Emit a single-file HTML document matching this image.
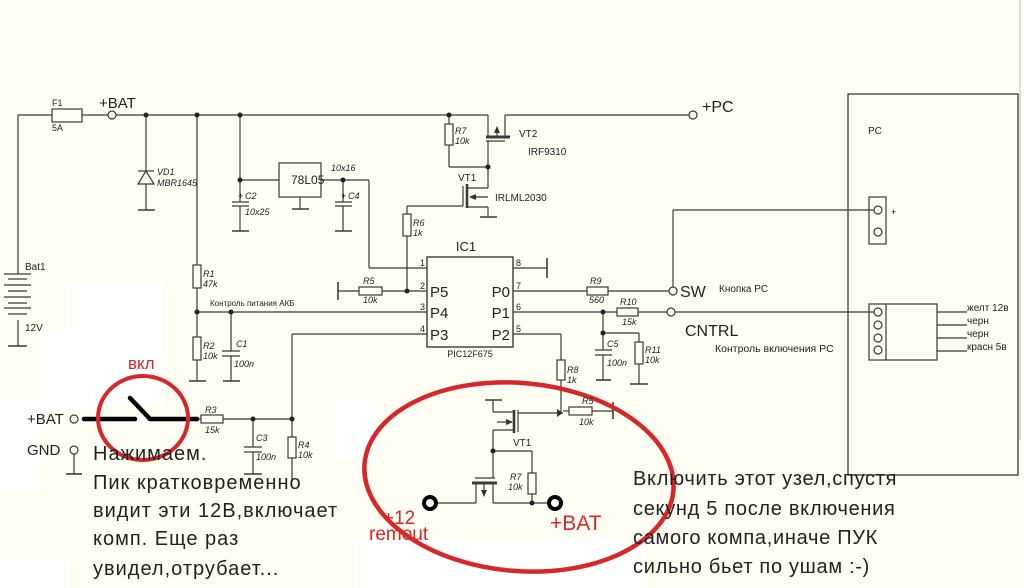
<!DOCTYPE html>
<html><head><meta charset="utf-8">
<style>
html,body{margin:0;padding:0;background:#fefef2;}
svg{display:block;}
text{font-family:"Liberation Sans",Arial,sans-serif;fill:#222;}
.i{font-style:italic;}
</style></head>
<body>
<svg width="1024" height="588" viewBox="0 0 1024 588" xmlns="http://www.w3.org/2000/svg">
<rect x="0" y="0" width="1024" height="588" fill="#fefef2"/>
<!-- white patches -->
<g fill="#ffffff">
<rect x="67" y="285" width="96" height="120"/>
<rect x="0" y="400" width="40" height="90"/>
<rect x="40" y="330" width="60" height="80"/>
<rect x="335" y="400" width="40" height="60"/>
<rect x="355" y="540" width="290" height="48"/>
<rect x="0" y="560" width="70" height="28"/>
</g>
<g stroke="#3a3a3a" stroke-width="1.2" fill="none">
<!-- top rail -->
<line x1="18" y1="115" x2="52" y2="115"/>
<rect x="52" y="109" width="30" height="13"/>
<line x1="82" y1="115" x2="108" y2="115"/>
<circle cx="112" cy="115" r="4"/>
<line x1="116" y1="115" x2="488" y2="115"/>
<!-- battery -->
<line x1="18" y1="115" x2="18" y2="274"/>
<line x1="4" y1="274" x2="31" y2="274"/>
<line x1="8" y1="279" x2="27" y2="279"/>
<line x1="4" y1="285" x2="31" y2="285"/>
<line x1="8" y1="291" x2="27" y2="291"/>
<line x1="4" y1="297" x2="31" y2="297"/>
<line x1="8" y1="303" x2="27" y2="303"/>
<line x1="4" y1="308" x2="31" y2="308"/>
<line x1="8" y1="314" x2="27" y2="314"/>
<line x1="18" y1="320" x2="18" y2="346"/>
<line x1="8" y1="346" x2="27" y2="346" stroke-width="1.6"/>
<!-- diode -->
<line x1="146" y1="115" x2="146" y2="210"/>
<line x1="138" y1="171" x2="154" y2="171"/>
<polygon points="146,171 138,184 154,184" fill="#fefef2"/>
<line x1="138" y1="210" x2="155" y2="210" stroke-width="1.6"/>
<!-- R1 R2 line -->
<line x1="197" y1="115" x2="197" y2="265"/>
<rect x="193" y="265" width="8" height="23" fill="#fefef2"/>
<line x1="197" y1="288" x2="197" y2="337"/>
<rect x="193" y="337" width="8" height="23" fill="#fefef2"/>
<line x1="197" y1="360" x2="197" y2="381"/>
<line x1="189" y1="381" x2="206" y2="381" stroke-width="1.6"/>
<line x1="197" y1="312" x2="427" y2="312"/>
<line x1="231" y1="312" x2="231" y2="351"/>
<line x1="222" y1="351" x2="240" y2="351"/>
<line x1="222" y1="356" x2="240" y2="356"/>
<line x1="231" y1="356" x2="231" y2="381"/>
<line x1="223" y1="381" x2="240" y2="381" stroke-width="1.6"/>
<!-- C2 / 78L05 -->
<line x1="240" y1="115" x2="240" y2="202"/>
<line x1="232" y1="202" x2="249" y2="202"/>
<line x1="232" y1="206" x2="249" y2="206"/>
<line x1="240" y1="206" x2="240" y2="231"/>
<line x1="232" y1="231" x2="249" y2="231" stroke-width="1.6"/>
<line x1="240" y1="180" x2="279" y2="180"/>
<rect x="279" y="163" width="42" height="34"/>
<line x1="300" y1="197" x2="300" y2="209"/>
<line x1="292" y1="209" x2="309" y2="209" stroke-width="1.6"/>
<line x1="321" y1="180" x2="369" y2="180"/>
<line x1="343" y1="180" x2="343" y2="202"/>
<line x1="335" y1="202" x2="352" y2="202"/>
<line x1="335" y1="206" x2="352" y2="206"/>
<line x1="343" y1="206" x2="343" y2="231"/>
<line x1="335" y1="231" x2="352" y2="231" stroke-width="1.6"/>
<line x1="369" y1="180" x2="369" y2="268"/>
<line x1="369" y1="268" x2="427" y2="268"/>
<!-- R7 / VT2 -->
<line x1="449" y1="115" x2="449" y2="124"/>
<rect x="445" y="124" width="8" height="21" fill="#fefef2"/>
<line x1="449" y1="145" x2="449" y2="167"/>
<line x1="449" y1="167" x2="488" y2="167"/>
<line x1="488" y1="115" x2="488" y2="136"/>
<line x1="486" y1="137" x2="510" y2="137" stroke-width="3"/>
<line x1="486" y1="141" x2="505" y2="141"/>
<line x1="497" y1="137" x2="497" y2="127"/>
<line x1="505" y1="137" x2="505" y2="115"/>
<line x1="505" y1="115" x2="689" y2="115"/>
<circle cx="693" cy="115" r="4"/>
<line x1="488" y1="141" x2="488" y2="188"/>
<!-- VT1 upper -->
<line x1="488" y1="188" x2="468" y2="188"/>
<line x1="467" y1="184" x2="467" y2="208" stroke-width="2.6"/>
<line x1="463" y1="186" x2="463" y2="206"/>
<line x1="463" y1="206" x2="407" y2="206"/>
<line x1="470" y1="197" x2="488" y2="197"/>
<line x1="468" y1="207" x2="488" y2="207"/>
<line x1="488" y1="207" x2="488" y2="217"/>
<line x1="480" y1="217" x2="497" y2="217" stroke-width="1.6"/>
<line x1="407" y1="206" x2="407" y2="214"/>
<rect x="403" y="214" width="8" height="22" fill="#fefef2"/>
<line x1="407" y1="236" x2="407" y2="291"/>
<!-- IC -->
<rect x="427" y="257" width="86" height="90" stroke-width="1.4"/>
<line x1="338" y1="282" x2="338" y2="300" stroke-width="1.6"/>
<line x1="338" y1="291" x2="359" y2="291"/>
<rect x="359" y="287" width="23" height="8" fill="#fefef2"/>
<line x1="382" y1="291" x2="427" y2="291"/>
<line x1="292" y1="334" x2="427" y2="334"/>
<line x1="292" y1="334" x2="292" y2="437"/>
<line x1="513" y1="268" x2="547" y2="268"/>
<line x1="547" y1="258" x2="547" y2="278" stroke-width="1.6"/>
<line x1="513" y1="291" x2="587" y2="291"/>
<rect x="587" y="287" width="21" height="8" fill="#fefef2"/>
<line x1="608" y1="291" x2="669" y2="291"/>
<circle cx="673" cy="291" r="4"/>
<line x1="673" y1="287" x2="673" y2="210"/>
<line x1="673" y1="210" x2="874" y2="210"/>
<line x1="513" y1="312" x2="617" y2="312"/>
<rect x="617" y="308" width="21" height="8" fill="#fefef2"/>
<line x1="638" y1="312" x2="667" y2="312"/>
<circle cx="671" cy="312" r="4"/>
<line x1="675" y1="312" x2="874" y2="312"/>
<line x1="603" y1="312" x2="603" y2="350"/>
<line x1="595" y1="350" x2="612" y2="350"/>
<line x1="595" y1="355" x2="612" y2="355"/>
<line x1="603" y1="355" x2="603" y2="380"/>
<line x1="596" y1="380" x2="611" y2="380" stroke-width="1.6"/>
<line x1="603" y1="333" x2="639" y2="333"/>
<line x1="639" y1="333" x2="639" y2="342"/>
<rect x="635" y="342" width="8" height="22" fill="#fefef2"/>
<line x1="639" y1="364" x2="639" y2="384"/>
<line x1="630" y1="384" x2="648" y2="384" stroke-width="1.6"/>
<line x1="513" y1="334" x2="561" y2="334"/>
<line x1="561" y1="334" x2="561" y2="360"/>
<rect x="557" y="360" width="8" height="20" fill="#fefef2"/>
<line x1="561" y1="380" x2="561" y2="412"/>
<!-- PC box -->
<rect x="848" y="94" width="170" height="381" stroke-width="1.3"/>
<rect x="869" y="197" width="17" height="47"/>
<circle cx="878" cy="210" r="4"/>
<circle cx="878" cy="232" r="4"/>
<rect x="869" y="304" width="68" height="56"/>
<line x1="886" y1="304" x2="886" y2="360"/>
<circle cx="878" cy="312" r="4"/>
<circle cx="878" cy="325" r="4"/>
<circle cx="878" cy="338" r="4"/>
<circle cx="878" cy="350" r="4"/>
<line x1="937" y1="312" x2="967" y2="312"/>
<line x1="937" y1="325" x2="967" y2="325"/>
<line x1="937" y1="338" x2="967" y2="338"/>
<line x1="937" y1="351" x2="967" y2="351"/>
<!-- bottom left -->
<circle cx="74" cy="419" r="4"/>
<line x1="198" y1="419" x2="201" y2="419"/>
<rect x="201" y="415" width="22" height="8" fill="#fefef2"/>
<line x1="223" y1="419" x2="292" y2="419"/>
<line x1="253" y1="419" x2="253" y2="447"/>
<line x1="244" y1="447" x2="262" y2="447"/>
<line x1="244" y1="452" x2="262" y2="452"/>
<line x1="253" y1="452" x2="253" y2="474"/>
<line x1="244" y1="474" x2="262" y2="474" stroke-width="1.6"/>
<rect x="288" y="437" width="8" height="21" fill="#fefef2"/>
<line x1="292" y1="458" x2="292" y2="482"/>
<circle cx="74" cy="450" r="4"/>
<line x1="74" y1="454" x2="74" y2="474"/>
<line x1="66" y1="474" x2="82" y2="474" stroke-width="1.6"/>
<!-- lower circuit -->
<line x1="485" y1="400" x2="502" y2="400" stroke-width="1.6"/>
<line x1="493" y1="400" x2="493" y2="412"/>
<line x1="493" y1="412" x2="514" y2="412"/>
<line x1="514" y1="410" x2="514" y2="433" stroke-width="2.6"/>
<line x1="518" y1="410" x2="518" y2="432"/>
<line x1="518" y1="413" x2="563" y2="413"/>
<line x1="497" y1="422" x2="512" y2="422"/>
<line x1="514" y1="430" x2="493" y2="430"/>
<line x1="493" y1="430" x2="493" y2="478"/>
<line x1="493" y1="451" x2="532" y2="451"/>
<line x1="532" y1="451" x2="532" y2="473"/>
<rect x="528" y="473" width="8" height="21" fill="#fefef2"/>
<line x1="532" y1="494" x2="532" y2="503"/>
<line x1="475" y1="478" x2="495" y2="478"/>
<line x1="472" y1="483" x2="497" y2="483" stroke-width="3"/>
<line x1="484" y1="484" x2="484" y2="495"/>
<line x1="476" y1="483" x2="476" y2="503"/>
<line x1="476" y1="503" x2="436" y2="503"/>
<line x1="493" y1="483" x2="493" y2="503"/>
<line x1="493" y1="503" x2="549" y2="503"/>
<line x1="563" y1="411" x2="569" y2="411"/>
<rect x="569" y="407" width="23" height="8" fill="#fefef2"/>
<line x1="592" y1="411" x2="613" y2="411"/>
<line x1="613" y1="402" x2="613" y2="419" stroke-width="1.6"/>
</g>
<!-- arrowheads -->
<g fill="#333">
<polygon points="497,126 494,133 500,133"/>
<polygon points="469,197 476,194 476,200"/>
<polygon points="513,422 506,419 506,425"/>
<polygon points="484,497 481,490 487,490"/>
<polygon points="563,413 557,409 557,417"/>
</g>
<!-- dots -->
<g fill="#222">
<circle cx="146" cy="115" r="2.5"/><circle cx="197" cy="115" r="2.5"/><circle cx="240" cy="115" r="2.5"/>
<circle cx="240" cy="180" r="2.5"/><circle cx="343" cy="180" r="2.5"/><circle cx="449" cy="115" r="2.5"/>
<circle cx="488" cy="167" r="2.5"/><circle cx="407" cy="291" r="2.5"/><circle cx="197" cy="312" r="2.5"/>
<circle cx="231" cy="312" r="2.5"/><circle cx="603" cy="312" r="2.5"/><circle cx="603" cy="333" r="2.5"/>
<circle cx="253" cy="419" r="2.5"/><circle cx="292" cy="419" r="2.5"/>
<circle cx="493" cy="451" r="2.5"/><circle cx="532" cy="503" r="2.5"/>
</g>
<!-- thick switch -->
<g stroke="#000" stroke-width="4.5" fill="none" stroke-linecap="round">
<line x1="84" y1="419" x2="135" y2="419"/>
<line x1="130" y1="398" x2="150" y2="419"/>
<line x1="150" y1="419" x2="197" y2="419"/>
</g>
<circle cx="430" cy="503" r="6" stroke="#000" stroke-width="4" fill="#fff"/>
<circle cx="555" cy="503" r="6" stroke="#000" stroke-width="4" fill="#fff"/>
<!-- red -->
<ellipse cx="143" cy="418" rx="45" ry="42" stroke="#d8262a" stroke-width="4" fill="none"/>
<ellipse cx="519" cy="477" rx="155" ry="94" transform="rotate(5 519 477)" stroke="#d8262a" stroke-width="4.5" fill="none"/>
<!-- labels -->
<g font-size="9">
<text x="52" y="106">F1</text><text x="52" y="131">5A</text>
<text x="25" y="270" font-size="10">Bat1</text><text x="25" y="331" font-size="10">12V</text>
<text x="291" y="184" font-size="12">78L05</text>
<text x="466" y="251" font-size="13" text-anchor="middle">IC1</text>
<text x="470" y="357" text-anchor="middle">PIC12F675</text>
<text x="458" y="181" font-size="10">VT1</text>
<text x="495" y="201" font-size="10">IRLML2030</text>
<text x="519" y="137" font-size="10">VT2</text>
<text x="528" y="155" font-size="10">IRF9310</text>
<text x="210" y="306" font-size="8">Контроль питания АКБ</text>
<text x="868" y="134" font-size="10">PC</text>
<text x="891" y="215" font-size="9">+</text>
<text x="719" y="292" font-size="10">Кнопка PC</text>
<text x="715" y="352" font-size="10.5">Контроль включения PC</text>
<text x="967" y="311" font-size="10">желт 12в</text>
<text x="967" y="324" font-size="10">черн</text>
<text x="967" y="337" font-size="10">черн</text>
<text x="967" y="350" font-size="10">красн 5в</text>
<text x="513" y="446" font-size="10">VT1</text>
</g>
<g font-size="9" class="i">
<text x="157" y="175" class="i">VD1</text><text x="157" y="186" class="i">MBR1645</text>
<text x="245" y="199" class="i">C2</text><text x="238" y="199">+</text><text x="245" y="215" class="i">10x25</text>
<text x="331" y="171" class="i">10x16</text><text x="348" y="199" class="i">C4</text><text x="341" y="199">+</text>
<text x="455" y="134" class="i">R7</text><text x="455" y="144" class="i">10k</text>
<text x="413" y="226" class="i">R6</text><text x="413" y="236" class="i">1k</text>
<text x="203" y="277" class="i">R1</text><text x="203" y="287" class="i">47k</text>
<text x="203" y="349" class="i">R2</text><text x="203" y="359" class="i">10k</text>
<text x="236" y="347" class="i">C1</text><text x="234" y="367" class="i">100n</text>
<text x="363" y="284" class="i">R5</text><text x="363" y="303" class="i">10k</text>
<text x="590" y="284" class="i">R9</text><text x="589" y="303" class="i">560</text>
<text x="620" y="305" class="i">R10</text><text x="622" y="325" class="i">15k</text>
<text x="607" y="347" class="i">C5</text><text x="607" y="366" class="i">100n</text>
<text x="645" y="353" class="i">R11</text><text x="645" y="363" class="i">10k</text>
<text x="567" y="373" class="i">R8</text><text x="567" y="383" class="i">1k</text>
<text x="205" y="413" class="i">R3</text><text x="205" y="433" class="i">15k</text>
<text x="256" y="441" class="i">C3</text><text x="256" y="460" class="i">100n</text>
<text x="298" y="448" class="i">R4</text><text x="298" y="458" class="i">10k</text>
<text x="582" y="404" class="i">R5</text><text x="579" y="425" class="i">10k</text>
<text x="510" y="480" class="i">R7</text><text x="508" y="490" class="i">10k</text>
</g>
<g font-size="9">
<text x="420" y="266">1</text><text x="420" y="289">2</text><text x="420" y="310">3</text><text x="420" y="332">4</text>
<text x="516" y="266">8</text><text x="516" y="289">7</text><text x="516" y="310">6</text><text x="516" y="332">5</text>
</g>
<g font-size="15">
<text x="430" y="297">P5</text><text x="430" y="318">P4</text><text x="430" y="340">P3</text>
<text x="510" y="297" text-anchor="end">P0</text><text x="510" y="318" text-anchor="end">P1</text><text x="510" y="340" text-anchor="end">P2</text>
</g>
<text x="99" y="108" font-size="15">+BAT</text>
<text x="702" y="112" font-size="16">+PC</text>
<text x="680" y="297" font-size="16">SW</text>
<text x="685" y="336" font-size="16">CNTRL</text>
<text x="27" y="424" font-size="15">+BAT</text>
<text x="27" y="455" font-size="15">GND</text>
<text x="128" y="369" font-size="17" style="fill:#d8262a">вкл</text>
<text x="383" y="524" font-size="19" style="fill:#d8262a">+12</text>
<text x="369" y="540" font-size="19" style="fill:#d8262a">remout</text>
<text x="550" y="530" font-size="21" style="fill:#d8262a">+BAT</text>
<g font-size="20" letter-spacing="1.0" style="fill:#111">
<text x="93" y="460">Нажимаем.</text>
<text x="93" y="489">Пик кратковременно</text>
<text x="93" y="517">видит эти 12В,включает</text>
<text x="93" y="545">комп. Еще раз</text>
<text x="93" y="575">увидел,отрубает...</text>
</g>
<g font-size="20" letter-spacing="0.7" style="fill:#111">
<text x="633" y="485">Включить этот узел,спустя</text>
<text x="633" y="515">секунд 5 после включения</text>
<text x="633" y="544">самого компа,иначе ПУК</text>
<text x="633" y="573">сильно бьет по ушам :-)</text>
</g>
<line x1="1020" y1="0" x2="1020" y2="440" stroke="#bbb" stroke-width="1"/>
</svg>
</body></html>
